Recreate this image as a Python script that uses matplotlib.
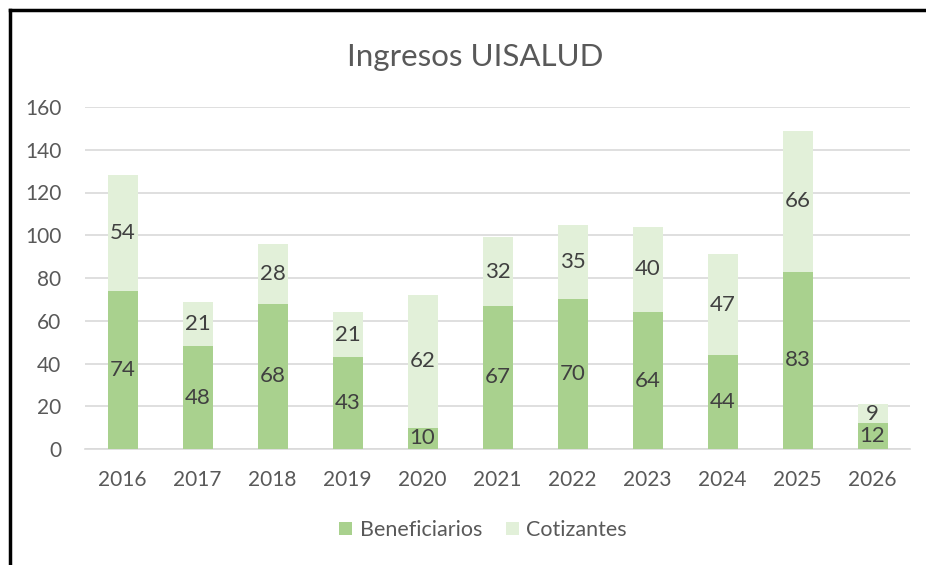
import matplotlib.pyplot as plt
from matplotlib.lines import Line2D
import numpy as np

plt.rcParams['font.family'] = ['Lato', 'DejaVu Sans']

years = ['2016', '2017', '2018', '2019', '2020', '2021', '2022', '2023', '2024', '2025', '2026']
beneficiarios = [74, 48, 68, 43, 10, 67, 70, 64, 44, 83, 12]
cotizantes = [54, 21, 28, 21, 62, 32, 35, 40, 47, 66, 9]

txt = '#595959'
fig = plt.figure(figsize=(9.26, 5.65), dpi=100)
ax = fig.add_axes([85/926, 1 - 449/565, 825/926, 342/565])

x = np.arange(len(years))
b1 = ax.bar(x, beneficiarios, width=0.4, color='#A9D18E', label='Beneficiarios', zorder=3)
b2 = ax.bar(x, cotizantes, width=0.4, bottom=beneficiarios, color='#E2F0D9',
            label='Cotizantes', zorder=3)
ax.bar_label(b1, label_type='center', fontsize=16, color='#404040')
ax.bar_label(b2, label_type='center', fontsize=16, color='#404040')

ax.set_xlim(-0.5, len(years) - 0.5)
ax.set_ylim(0, 160)
ax.set_yticks(range(0, 161, 20))
ax.set_xticks(x)
ax.set_xticklabels(years)
ax.tick_params(length=0, labelsize=15, colors=txt)
ax.tick_params(axis='x', pad=15)
ax.tick_params(axis='y', pad=17)
ax.grid(axis='y', color='#D9D9D9', linewidth=1.2, zorder=0)
for s in ['top', 'right', 'left']:
    ax.spines[s].set_visible(False)
ax.spines['bottom'].set_color('#D9D9D9')
ax.spines['bottom'].set_linewidth(1.2)

fig.text(0.513, 1 - 57/565, 'Ingresos UISALUD', ha='center', va='center',
         fontsize=22.5, color=txt)

ax.legend(loc='center', bbox_to_anchor=(483/926, 1 - 530/565),
          bbox_transform=fig.transFigure, ncol=2, frameon=False,
          fontsize=15.5, labelcolor=txt, handlelength=0.6, handleheight=0.6,
          columnspacing=1.1, handletextpad=0.35)

# border of the chart frame
fig.add_artist(Line2D([10/926, 1], [1 - 9.5/565, 1 - 9.5/565], color='black', lw=2.5))
fig.add_artist(Line2D([10/926, 10/926], [0, 1 - 9.5/565], color='black', lw=2.5))

fig.savefig('out.png', dpi=100)
